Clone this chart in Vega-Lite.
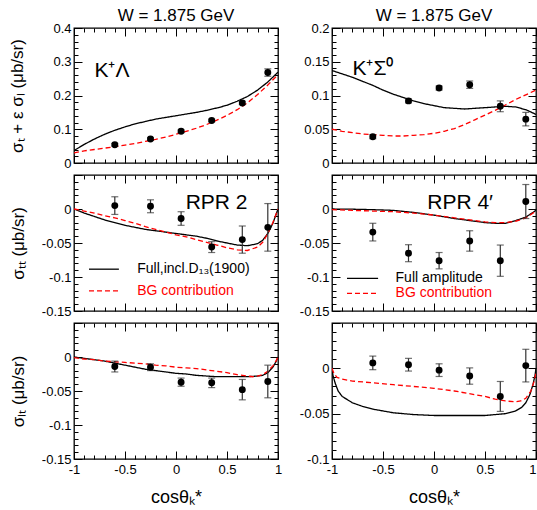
{
"$schema": "https://vega.github.io/schema/vega-lite/v6.json",
"background": "white",
"padding": {"left": 8, "top": 6, "right": 0, "bottom": 0},
"config": {
  "font": "Liberation Sans",
  "view": {"stroke": "black", "strokeWidth": 1.3},
  "axis": {"domain": false, "grid": false, "tickColor": "black", "tickWidth": 1, "labelFont": "Liberation Sans", "labelFontSize": 13, "labelColor": "black", "titleFont": "Liberation Sans", "titleFontSize": 17, "titleFontWeight": "normal", "titleColor": "black"},
  "title": {"font": "Liberation Sans", "fontSize": 17, "fontWeight": "normal", "color": "black", "offset": -3},
  "text": {"font": "Liberation Sans", "color": "black"}
},
"datasets": {
  "curves": [
    {"p":"TL","s":"full","x":-1,"y":0.037},{"p":"TL","s":"full","x":-0.9,"y":0.055},{"p":"TL","s":"full","x":-0.8,"y":0.071},{"p":"TL","s":"full","x":-0.7,"y":0.085},{"p":"TL","s":"full","x":-0.6,"y":0.097},{"p":"TL","s":"full","x":-0.5,"y":0.107},{"p":"TL","s":"full","x":-0.4,"y":0.116},{"p":"TL","s":"full","x":-0.3,"y":0.123},{"p":"TL","s":"full","x":-0.2,"y":0.130},{"p":"TL","s":"full","x":-0.1,"y":0.135},{"p":"TL","s":"full","x":0,"y":0.140},{"p":"TL","s":"full","x":0.1,"y":0.145},{"p":"TL","s":"full","x":0.2,"y":0.150},{"p":"TL","s":"full","x":0.3,"y":0.156},{"p":"TL","s":"full","x":0.4,"y":0.163},{"p":"TL","s":"full","x":0.5,"y":0.171},{"p":"TL","s":"full","x":0.6,"y":0.183},{"p":"TL","s":"full","x":0.7,"y":0.197},{"p":"TL","s":"full","x":0.8,"y":0.216},{"p":"TL","s":"full","x":0.9,"y":0.240},{"p":"TL","s":"full","x":1,"y":0.269},
    {"p":"TL","s":"bg","x":-1,"y":0.030},{"p":"TL","s":"bg","x":-0.9,"y":0.036},{"p":"TL","s":"bg","x":-0.8,"y":0.040},{"p":"TL","s":"bg","x":-0.7,"y":0.044},{"p":"TL","s":"bg","x":-0.6,"y":0.048},{"p":"TL","s":"bg","x":-0.5,"y":0.053},{"p":"TL","s":"bg","x":-0.4,"y":0.058},{"p":"TL","s":"bg","x":-0.3,"y":0.064},{"p":"TL","s":"bg","x":-0.2,"y":0.070},{"p":"TL","s":"bg","x":-0.1,"y":0.077},{"p":"TL","s":"bg","x":0,"y":0.085},{"p":"TL","s":"bg","x":0.1,"y":0.094},{"p":"TL","s":"bg","x":0.2,"y":0.103},{"p":"TL","s":"bg","x":0.3,"y":0.114},{"p":"TL","s":"bg","x":0.4,"y":0.127},{"p":"TL","s":"bg","x":0.5,"y":0.141},{"p":"TL","s":"bg","x":0.6,"y":0.158},{"p":"TL","s":"bg","x":0.7,"y":0.178},{"p":"TL","s":"bg","x":0.8,"y":0.203},{"p":"TL","s":"bg","x":0.9,"y":0.231},{"p":"TL","s":"bg","x":1,"y":0.262},

    {"p":"TR","s":"full","x":-1,"y":0.137},{"p":"TR","s":"full","x":-0.9,"y":0.132},{"p":"TR","s":"full","x":-0.8,"y":0.127},{"p":"TR","s":"full","x":-0.7,"y":0.121},{"p":"TR","s":"full","x":-0.6,"y":0.115},{"p":"TR","s":"full","x":-0.5,"y":0.108},{"p":"TR","s":"full","x":-0.4,"y":0.102},{"p":"TR","s":"full","x":-0.3,"y":0.097},{"p":"TR","s":"full","x":-0.2,"y":0.092},{"p":"TR","s":"full","x":-0.1,"y":0.088},{"p":"TR","s":"full","x":0,"y":0.085},{"p":"TR","s":"full","x":0.1,"y":0.082},{"p":"TR","s":"full","x":0.2,"y":0.081},{"p":"TR","s":"full","x":0.3,"y":0.080},{"p":"TR","s":"full","x":0.4,"y":0.081},{"p":"TR","s":"full","x":0.5,"y":0.082},{"p":"TR","s":"full","x":0.6,"y":0.083},{"p":"TR","s":"full","x":0.7,"y":0.084},{"p":"TR","s":"full","x":0.8,"y":0.083},{"p":"TR","s":"full","x":0.9,"y":0.079},{"p":"TR","s":"full","x":1,"y":0.072},
    {"p":"TR","s":"bg","x":-1,"y":0.050},{"p":"TR","s":"bg","x":-0.9,"y":0.047},{"p":"TR","s":"bg","x":-0.8,"y":0.045},{"p":"TR","s":"bg","x":-0.7,"y":0.043},{"p":"TR","s":"bg","x":-0.6,"y":0.042},{"p":"TR","s":"bg","x":-0.5,"y":0.041},{"p":"TR","s":"bg","x":-0.4,"y":0.040},{"p":"TR","s":"bg","x":-0.3,"y":0.040},{"p":"TR","s":"bg","x":-0.2,"y":0.041},{"p":"TR","s":"bg","x":-0.1,"y":0.042},{"p":"TR","s":"bg","x":0,"y":0.044},{"p":"TR","s":"bg","x":0.1,"y":0.047},{"p":"TR","s":"bg","x":0.2,"y":0.051},{"p":"TR","s":"bg","x":0.3,"y":0.057},{"p":"TR","s":"bg","x":0.4,"y":0.064},{"p":"TR","s":"bg","x":0.5,"y":0.071},{"p":"TR","s":"bg","x":0.6,"y":0.078},{"p":"TR","s":"bg","x":0.7,"y":0.086},{"p":"TR","s":"bg","x":0.8,"y":0.094},{"p":"TR","s":"bg","x":0.9,"y":0.101},{"p":"TR","s":"bg","x":1,"y":0.108},

    {"p":"ML","s":"full","x":-1,"y":0},{"p":"ML","s":"full","x":-0.9,"y":-0.006},{"p":"ML","s":"full","x":-0.8,"y":-0.011},{"p":"ML","s":"full","x":-0.7,"y":-0.016},{"p":"ML","s":"full","x":-0.6,"y":-0.020},{"p":"ML","s":"full","x":-0.5,"y":-0.024},{"p":"ML","s":"full","x":-0.4,"y":-0.027},{"p":"ML","s":"full","x":-0.3,"y":-0.030},{"p":"ML","s":"full","x":-0.2,"y":-0.032},{"p":"ML","s":"full","x":-0.1,"y":-0.034},{"p":"ML","s":"full","x":0,"y":-0.036},{"p":"ML","s":"full","x":0.1,"y":-0.038},{"p":"ML","s":"full","x":0.2,"y":-0.040},{"p":"ML","s":"full","x":0.3,"y":-0.043},{"p":"ML","s":"full","x":0.4,"y":-0.047},{"p":"ML","s":"full","x":0.5,"y":-0.050},{"p":"ML","s":"full","x":0.6,"y":-0.053},{"p":"ML","s":"full","x":0.7,"y":-0.054},{"p":"ML","s":"full","x":0.8,"y":-0.051},{"p":"ML","s":"full","x":0.85,"y":-0.046},{"p":"ML","s":"full","x":0.9,"y":-0.036},{"p":"ML","s":"full","x":0.95,"y":-0.021},{"p":"ML","s":"full","x":1,"y":0},
    {"p":"ML","s":"bg","x":-1,"y":0},{"p":"ML","s":"bg","x":-0.9,"y":-0.003},{"p":"ML","s":"bg","x":-0.8,"y":-0.006},{"p":"ML","s":"bg","x":-0.7,"y":-0.010},{"p":"ML","s":"bg","x":-0.6,"y":-0.013},{"p":"ML","s":"bg","x":-0.5,"y":-0.017},{"p":"ML","s":"bg","x":-0.4,"y":-0.021},{"p":"ML","s":"bg","x":-0.3,"y":-0.026},{"p":"ML","s":"bg","x":-0.2,"y":-0.030},{"p":"ML","s":"bg","x":-0.1,"y":-0.034},{"p":"ML","s":"bg","x":0,"y":-0.038},{"p":"ML","s":"bg","x":0.1,"y":-0.041},{"p":"ML","s":"bg","x":0.2,"y":-0.045},{"p":"ML","s":"bg","x":0.3,"y":-0.049},{"p":"ML","s":"bg","x":0.4,"y":-0.053},{"p":"ML","s":"bg","x":0.5,"y":-0.057},{"p":"ML","s":"bg","x":0.6,"y":-0.060},{"p":"ML","s":"bg","x":0.7,"y":-0.061},{"p":"ML","s":"bg","x":0.8,"y":-0.056},{"p":"ML","s":"bg","x":0.85,"y":-0.049},{"p":"ML","s":"bg","x":0.9,"y":-0.036},{"p":"ML","s":"bg","x":0.95,"y":-0.020},{"p":"ML","s":"bg","x":1,"y":0},

    {"p":"MR","s":"full","x":-1,"y":0},{"p":"MR","s":"full","x":-0.8,"y":-0.0003},{"p":"MR","s":"full","x":-0.6,"y":-0.001},{"p":"MR","s":"full","x":-0.4,"y":-0.002},{"p":"MR","s":"full","x":-0.2,"y":-0.005},{"p":"MR","s":"full","x":0,"y":-0.009},{"p":"MR","s":"full","x":0.2,"y":-0.014},{"p":"MR","s":"full","x":0.4,"y":-0.018},{"p":"MR","s":"full","x":0.5,"y":-0.020},{"p":"MR","s":"full","x":0.6,"y":-0.021},{"p":"MR","s":"full","x":0.7,"y":-0.021},{"p":"MR","s":"full","x":0.8,"y":-0.017},{"p":"MR","s":"full","x":0.9,"y":-0.012},{"p":"MR","s":"full","x":0.95,"y":-0.007},{"p":"MR","s":"full","x":1,"y":-0.002},
    {"p":"MR","s":"bg","x":-1,"y":-0.001},{"p":"MR","s":"bg","x":-0.8,"y":-0.002},{"p":"MR","s":"bg","x":-0.6,"y":-0.003},{"p":"MR","s":"bg","x":-0.4,"y":-0.004},{"p":"MR","s":"bg","x":-0.2,"y":-0.006},{"p":"MR","s":"bg","x":0,"y":-0.009},{"p":"MR","s":"bg","x":0.2,"y":-0.013},{"p":"MR","s":"bg","x":0.4,"y":-0.017},{"p":"MR","s":"bg","x":0.5,"y":-0.019},{"p":"MR","s":"bg","x":0.6,"y":-0.020},{"p":"MR","s":"bg","x":0.7,"y":-0.020},{"p":"MR","s":"bg","x":0.8,"y":-0.018},{"p":"MR","s":"bg","x":0.9,"y":-0.013},{"p":"MR","s":"bg","x":0.95,"y":-0.008},{"p":"MR","s":"bg","x":1,"y":-0.003},

    {"p":"BL","s":"full","x":-1,"y":0},{"p":"BL","s":"full","x":-0.9,"y":-0.002},{"p":"BL","s":"full","x":-0.8,"y":-0.004},{"p":"BL","s":"full","x":-0.7,"y":-0.006},{"p":"BL","s":"full","x":-0.6,"y":-0.009},{"p":"BL","s":"full","x":-0.5,"y":-0.012},{"p":"BL","s":"full","x":-0.4,"y":-0.015},{"p":"BL","s":"full","x":-0.3,"y":-0.018},{"p":"BL","s":"full","x":-0.2,"y":-0.020},{"p":"BL","s":"full","x":-0.1,"y":-0.022},{"p":"BL","s":"full","x":0,"y":-0.024},{"p":"BL","s":"full","x":0.1,"y":-0.025},{"p":"BL","s":"full","x":0.2,"y":-0.027},{"p":"BL","s":"full","x":0.3,"y":-0.028},{"p":"BL","s":"full","x":0.4,"y":-0.029},{"p":"BL","s":"full","x":0.5,"y":-0.029},{"p":"BL","s":"full","x":0.6,"y":-0.029},{"p":"BL","s":"full","x":0.7,"y":-0.029},{"p":"BL","s":"full","x":0.8,"y":-0.028},{"p":"BL","s":"full","x":0.85,"y":-0.027},{"p":"BL","s":"full","x":0.9,"y":-0.023},{"p":"BL","s":"full","x":0.95,"y":-0.015},{"p":"BL","s":"full","x":0.98,"y":-0.007},{"p":"BL","s":"full","x":1,"y":0},
    {"p":"BL","s":"bg","x":-1,"y":-0.001},{"p":"BL","s":"bg","x":-0.9,"y":-0.003},{"p":"BL","s":"bg","x":-0.8,"y":-0.004},{"p":"BL","s":"bg","x":-0.7,"y":-0.006},{"p":"BL","s":"bg","x":-0.6,"y":-0.007},{"p":"BL","s":"bg","x":-0.5,"y":-0.008},{"p":"BL","s":"bg","x":-0.4,"y":-0.009},{"p":"BL","s":"bg","x":-0.3,"y":-0.010},{"p":"BL","s":"bg","x":-0.2,"y":-0.012},{"p":"BL","s":"bg","x":-0.1,"y":-0.013},{"p":"BL","s":"bg","x":0,"y":-0.015},{"p":"BL","s":"bg","x":0.1,"y":-0.016},{"p":"BL","s":"bg","x":0.2,"y":-0.017},{"p":"BL","s":"bg","x":0.3,"y":-0.019},{"p":"BL","s":"bg","x":0.4,"y":-0.021},{"p":"BL","s":"bg","x":0.5,"y":-0.023},{"p":"BL","s":"bg","x":0.6,"y":-0.026},{"p":"BL","s":"bg","x":0.7,"y":-0.028},{"p":"BL","s":"bg","x":0.75,"y":-0.029},{"p":"BL","s":"bg","x":0.8,"y":-0.028},{"p":"BL","s":"bg","x":0.85,"y":-0.026},{"p":"BL","s":"bg","x":0.9,"y":-0.021},{"p":"BL","s":"bg","x":0.95,"y":-0.013},{"p":"BL","s":"bg","x":0.98,"y":-0.006},{"p":"BL","s":"bg","x":1,"y":0},

    {"p":"BR","s":"full","x":-1,"y":0},{"p":"BR","s":"full","x":-0.99,"y":-0.008},{"p":"BR","s":"full","x":-0.97,"y":-0.016},{"p":"BR","s":"full","x":-0.94,"y":-0.025},{"p":"BR","s":"full","x":-0.9,"y":-0.031},{"p":"BR","s":"full","x":-0.8,"y":-0.038},{"p":"BR","s":"full","x":-0.7,"y":-0.042},{"p":"BR","s":"full","x":-0.6,"y":-0.045},{"p":"BR","s":"full","x":-0.5,"y":-0.047},{"p":"BR","s":"full","x":-0.4,"y":-0.049},{"p":"BR","s":"full","x":-0.3,"y":-0.050},{"p":"BR","s":"full","x":-0.2,"y":-0.051},{"p":"BR","s":"full","x":-0.1,"y":-0.0515},{"p":"BR","s":"full","x":0,"y":-0.052},{"p":"BR","s":"full","x":0.1,"y":-0.052},{"p":"BR","s":"full","x":0.2,"y":-0.052},{"p":"BR","s":"full","x":0.3,"y":-0.052},{"p":"BR","s":"full","x":0.4,"y":-0.052},{"p":"BR","s":"full","x":0.5,"y":-0.052},{"p":"BR","s":"full","x":0.6,"y":-0.051},{"p":"BR","s":"full","x":0.7,"y":-0.050},{"p":"BR","s":"full","x":0.8,"y":-0.047},{"p":"BR","s":"full","x":0.86,"y":-0.043},{"p":"BR","s":"full","x":0.9,"y":-0.038},{"p":"BR","s":"full","x":0.94,"y":-0.029},{"p":"BR","s":"full","x":0.97,"y":-0.018},{"p":"BR","s":"full","x":0.99,"y":-0.008},{"p":"BR","s":"full","x":1,"y":0},
    {"p":"BR","s":"bg","x":-1,"y":0},{"p":"BR","s":"bg","x":-0.98,"y":-0.006},{"p":"BR","s":"bg","x":-0.95,"y":-0.010},{"p":"BR","s":"bg","x":-0.9,"y":-0.012},{"p":"BR","s":"bg","x":-0.8,"y":-0.014},{"p":"BR","s":"bg","x":-0.6,"y":-0.016},{"p":"BR","s":"bg","x":-0.4,"y":-0.018},{"p":"BR","s":"bg","x":-0.2,"y":-0.020},{"p":"BR","s":"bg","x":0,"y":-0.022},{"p":"BR","s":"bg","x":0.2,"y":-0.025},{"p":"BR","s":"bg","x":0.4,"y":-0.029},{"p":"BR","s":"bg","x":0.5,"y":-0.031},{"p":"BR","s":"bg","x":0.6,"y":-0.034},{"p":"BR","s":"bg","x":0.7,"y":-0.036},{"p":"BR","s":"bg","x":0.8,"y":-0.037},{"p":"BR","s":"bg","x":0.85,"y":-0.036},{"p":"BR","s":"bg","x":0.9,"y":-0.033},{"p":"BR","s":"bg","x":0.95,"y":-0.025},{"p":"BR","s":"bg","x":0.98,"y":-0.015},{"p":"BR","s":"bg","x":1,"y":-0.005}
  ],
  "points": [
    {"p":"TL","x":-0.6,"y":0.054,"lo":0.050,"hi":0.058},{"p":"TL","x":-0.25,"y":0.071,"lo":0.067,"hi":0.075},{"p":"TL","x":0.05,"y":0.094,"lo":0.090,"hi":0.098},{"p":"TL","x":0.35,"y":0.126,"lo":0.122,"hi":0.130},{"p":"TL","x":0.65,"y":0.178,"lo":0.173,"hi":0.183},{"p":"TL","x":0.9,"y":0.268,"lo":0.257,"hi":0.279},
    {"p":"TR","x":-0.6,"y":0.039,"lo":0.036,"hi":0.042},{"p":"TR","x":-0.25,"y":0.092,"lo":0.089,"hi":0.095},{"p":"TR","x":0.05,"y":0.111,"lo":0.108,"hi":0.114},{"p":"TR","x":0.35,"y":0.116,"lo":0.1105,"hi":0.1215},{"p":"TR","x":0.65,"y":0.084,"lo":0.076,"hi":0.092},{"p":"TR","x":0.9,"y":0.065,"lo":0.055,"hi":0.075},
    {"p":"ML","x":-0.6,"y":0.005,"lo":-0.008,"hi":0.018},{"p":"ML","x":-0.25,"y":0.004,"lo":-0.0055,"hi":0.0135},{"p":"ML","x":0.05,"y":-0.014,"lo":-0.024,"hi":-0.004},{"p":"ML","x":0.35,"y":-0.056,"lo":-0.064,"hi":-0.048},{"p":"ML","x":0.65,"y":-0.045,"lo":-0.065,"hi":-0.025},{"p":"ML","x":0.9,"y":-0.027,"lo":-0.062,"hi":0.008},
    {"p":"MR","x":-0.6,"y":-0.034,"lo":-0.047,"hi":-0.021},{"p":"MR","x":-0.25,"y":-0.065,"lo":-0.0775,"hi":-0.0525},{"p":"MR","x":0.05,"y":-0.076,"lo":-0.088,"hi":-0.064},{"p":"MR","x":0.35,"y":-0.047,"lo":-0.062,"hi":-0.032},{"p":"MR","x":0.65,"y":-0.076,"lo":-0.099,"hi":-0.053},{"p":"MR","x":0.9,"y":0.011,"lo":-0.014,"hi":0.036},
    {"p":"BL","x":-0.6,"y":-0.014,"lo":-0.022,"hi":-0.006},{"p":"BL","x":-0.25,"y":-0.015,"lo":-0.020,"hi":-0.010},{"p":"BL","x":0.05,"y":-0.037,"lo":-0.043,"hi":-0.031},{"p":"BL","x":0.35,"y":-0.038,"lo":-0.045,"hi":-0.031},{"p":"BL","x":0.65,"y":-0.048,"lo":-0.063,"hi":-0.033},{"p":"BL","x":0.9,"y":-0.036,"lo":-0.060,"hi":-0.012},
    {"p":"BR","x":-0.6,"y":0.006,"lo":-0.0015,"hi":0.0135},{"p":"BR","x":-0.25,"y":0.004,"lo":-0.003,"hi":0.011},{"p":"BR","x":0.05,"y":-0.002,"lo":-0.009,"hi":0.005},{"p":"BR","x":0.35,"y":-0.0085,"lo":-0.0175,"hi":0.0005},{"p":"BR","x":0.65,"y":-0.031,"lo":-0.0475,"hi":-0.0145},{"p":"BR","x":0.9,"y":0.003,"lo":-0.015,"hi":0.021}
  ]
},
"columns": 2,
"spacing": {"row": 12, "column": 54},
"bounds": "flush",
"concat": [
  {
    "width": 204, "height": 135,
    "title": {"text": "W = 1.875 GeV"},
    "layer": [
      {"data": {"name": "curves"}, "transform": [{"filter": "datum.p === 'TL'"}],
       "mark": {"type": "line", "strokeWidth": 1.3, "clip": true},
       "encoding": {
         "x": {"field": "x", "type": "quantitative", "scale": {"domain": [-1, 1], "nice": false, "zero": false},
               "axis": {"orient": "bottom", "values": [-1,-0.9,-0.8,-0.7,-0.6,-0.5,-0.4,-0.3,-0.2,-0.1,0,0.1,0.2,0.3,0.4,0.5,0.6,0.7,0.8,0.9,1], "tickSize": {"condition": {"test": "abs(datum.value*2-round(datum.value*2))<1e-6", "value": -8}, "value": -4}, "labels": false, "title": null}},
         "y": {"field": "y", "type": "quantitative", "scale": {"domain": [0, 0.4], "nice": false, "zero": false},
               "axis": {"orient": "left", "values": [0,0.02,0.04,0.06,0.08,0.1,0.12,0.14,0.16,0.18,0.2,0.22,0.24,0.26,0.28,0.3,0.32,0.34,0.36,0.38,0.4], "tickSize": {"condition": {"test": "abs(datum.value*10-round(datum.value*10))<1e-6", "value": -8}, "value": -4}, "labelExpr": "abs(datum.value*10-round(datum.value*10))<1e-6 ? replace(format(datum.value,'~g'),'\u2212','-') : ''", "labelPadding": 11, "labelOverlap": false, "title": "σₜ + ε σₗ (μb/sr)", "titlePadding": 26}},
         "color": {"field": "s", "type": "nominal", "scale": {"domain": ["full", "bg"], "range": ["black", "#ff0000"]}, "legend": null},
         "strokeDash": {"field": "s", "type": "nominal", "scale": {"domain": ["full", "bg"], "range": [[1, 0], [5, 3]]}, "legend": null}
       }},
      {"data": {"name": "points"}, "transform": [{"filter": "datum.p === 'TL'"}],
       "mark": {"type": "rule", "color": "#333", "strokeWidth": 1.2},
       "encoding": {"x": {"field": "x", "type": "quantitative", "axis": null}, "y": {"field": "lo", "type": "quantitative", "axis": null}, "y2": {"field": "hi"}}},
      {"data": {"name": "points"}, "transform": [{"filter": "datum.p === 'TL'"}],
       "mark": {"type": "tick", "orient": "horizontal", "size": 7, "thickness": 1.2, "color": "#333"},
       "encoding": {"x": {"field": "x", "type": "quantitative", "axis": null}, "y": {"field": "lo", "type": "quantitative", "axis": null}}},
      {"data": {"name": "points"}, "transform": [{"filter": "datum.p === 'TL'"}],
       "mark": {"type": "tick", "orient": "horizontal", "size": 7, "thickness": 1.2, "color": "#333"},
       "encoding": {"x": {"field": "x", "type": "quantitative", "axis": null}, "y": {"field": "hi", "type": "quantitative", "axis": null}}},
      {"data": {"name": "points"}, "transform": [{"filter": "datum.p === 'TL'"}],
       "mark": {"type": "circle", "size": 48, "color": "black", "opacity": 1},
       "encoding": {
         "x": {"field": "x", "type": "quantitative", "axis": {"orient": "top", "values": [-1,-0.9,-0.8,-0.7,-0.6,-0.5,-0.4,-0.3,-0.2,-0.1,0,0.1,0.2,0.3,0.4,0.5,0.6,0.7,0.8,0.9,1], "tickSize": {"condition": {"test": "abs(datum.value*2-round(datum.value*2))<1e-6", "value": -8}, "value": -4}, "labels": false, "title": null}},
         "y": {"field": "y", "type": "quantitative", "axis": {"orient": "right", "values": [0,0.02,0.04,0.06,0.08,0.1,0.12,0.14,0.16,0.18,0.2,0.22,0.24,0.26,0.28,0.3,0.32,0.34,0.36,0.38,0.4], "tickSize": {"condition": {"test": "abs(datum.value*10-round(datum.value*10))<1e-6", "value": -8}, "value": -4}, "labels": false, "title": null}}
       }},
      {"data": {"values": [{}]},
       "mark": {"type": "text", "text": "K⁺Λ", "fontSize": 21, "align": "left", "baseline": "alphabetic"},
       "encoding": {"x": {"datum": -0.8, "type": "quantitative", "axis": null}, "y": {"datum": 0.256, "type": "quantitative", "axis": null}}}
    ],
    "resolve": {"axis": {"x": "independent", "y": "independent"}}
  },
  {
    "width": 204, "height": 135,
    "title": {"text": "W = 1.875 GeV"},
    "layer": [
      {"data": {"name": "curves"}, "transform": [{"filter": "datum.p === 'TR'"}],
       "mark": {"type": "line", "strokeWidth": 1.3, "clip": true},
       "encoding": {
         "x": {"field": "x", "type": "quantitative", "scale": {"domain": [-1, 1], "nice": false, "zero": false},
               "axis": {"orient": "bottom", "values": [-1,-0.9,-0.8,-0.7,-0.6,-0.5,-0.4,-0.3,-0.2,-0.1,0,0.1,0.2,0.3,0.4,0.5,0.6,0.7,0.8,0.9,1], "tickSize": {"condition": {"test": "abs(datum.value*2-round(datum.value*2))<1e-6", "value": -8}, "value": -4}, "labels": false, "title": null}},
         "y": {"field": "y", "type": "quantitative", "scale": {"domain": [0, 0.2], "nice": false, "zero": false},
               "axis": {"orient": "left", "values": [0,0.01,0.02,0.03,0.04,0.05,0.06,0.07,0.08,0.09,0.1,0.11,0.12,0.13,0.14,0.15,0.16,0.17,0.18,0.19,0.2], "tickSize": {"condition": {"test": "abs(datum.value*20-round(datum.value*20))<1e-6", "value": -8}, "value": -4}, "labelExpr": "abs(datum.value*20-round(datum.value*20))<1e-6 ? replace(format(datum.value,'~g'),'\u2212','-') : ''", "labelPadding": 11, "labelOverlap": false, "title": null}},
         "color": {"field": "s", "type": "nominal", "scale": {"domain": ["full", "bg"], "range": ["black", "#ff0000"]}, "legend": null},
         "strokeDash": {"field": "s", "type": "nominal", "scale": {"domain": ["full", "bg"], "range": [[1, 0], [5, 3]]}, "legend": null}
       }},
      {"data": {"name": "points"}, "transform": [{"filter": "datum.p === 'TR'"}],
       "mark": {"type": "rule", "color": "#333", "strokeWidth": 1.2},
       "encoding": {"x": {"field": "x", "type": "quantitative", "axis": null}, "y": {"field": "lo", "type": "quantitative", "axis": null}, "y2": {"field": "hi"}}},
      {"data": {"name": "points"}, "transform": [{"filter": "datum.p === 'TR'"}],
       "mark": {"type": "tick", "orient": "horizontal", "size": 7, "thickness": 1.2, "color": "#333"},
       "encoding": {"x": {"field": "x", "type": "quantitative", "axis": null}, "y": {"field": "lo", "type": "quantitative", "axis": null}}},
      {"data": {"name": "points"}, "transform": [{"filter": "datum.p === 'TR'"}],
       "mark": {"type": "tick", "orient": "horizontal", "size": 7, "thickness": 1.2, "color": "#333"},
       "encoding": {"x": {"field": "x", "type": "quantitative", "axis": null}, "y": {"field": "hi", "type": "quantitative", "axis": null}}},
      {"data": {"name": "points"}, "transform": [{"filter": "datum.p === 'TR'"}],
       "mark": {"type": "circle", "size": 48, "color": "black", "opacity": 1},
       "encoding": {
         "x": {"field": "x", "type": "quantitative", "axis": {"orient": "top", "values": [-1,-0.9,-0.8,-0.7,-0.6,-0.5,-0.4,-0.3,-0.2,-0.1,0,0.1,0.2,0.3,0.4,0.5,0.6,0.7,0.8,0.9,1], "tickSize": {"condition": {"test": "abs(datum.value*2-round(datum.value*2))<1e-6", "value": -8}, "value": -4}, "labels": false, "title": null}},
         "y": {"field": "y", "type": "quantitative", "axis": {"orient": "right", "values": [0,0.01,0.02,0.03,0.04,0.05,0.06,0.07,0.08,0.09,0.1,0.11,0.12,0.13,0.14,0.15,0.16,0.17,0.18,0.19,0.2], "tickSize": {"condition": {"test": "abs(datum.value*20-round(datum.value*20))<1e-6", "value": -8}, "value": -4}, "labels": false, "title": null}}
       }},
      {"data": {"values": [{}]},
       "mark": {"type": "text", "text": "K⁺Σ⁰", "fontSize": 21, "align": "left", "baseline": "alphabetic"},
       "encoding": {"x": {"datum": -0.8, "type": "quantitative", "axis": null}, "y": {"datum": 0.13, "type": "quantitative", "axis": null}}}
    ],
    "resolve": {"axis": {"x": "independent", "y": "independent"}}
  },
  {
    "width": 204, "height": 136,
    "layer": [
      {"data": {"name": "curves"}, "transform": [{"filter": "datum.p === 'ML'"}],
       "mark": {"type": "line", "strokeWidth": 1.3, "clip": true},
       "encoding": {
         "x": {"field": "x", "type": "quantitative", "scale": {"domain": [-1, 1], "nice": false, "zero": false},
               "axis": {"orient": "bottom", "values": [-1,-0.9,-0.8,-0.7,-0.6,-0.5,-0.4,-0.3,-0.2,-0.1,0,0.1,0.2,0.3,0.4,0.5,0.6,0.7,0.8,0.9,1], "tickSize": {"condition": {"test": "abs(datum.value*2-round(datum.value*2))<1e-6", "value": -8}, "value": -4}, "labels": false, "title": null}},
         "y": {"field": "y", "type": "quantitative", "scale": {"domain": [-0.15, 0.05], "nice": false, "zero": false},
               "axis": {"orient": "left", "values": [-0.15,-0.14,-0.13,-0.12,-0.11,-0.1,-0.09,-0.08,-0.07,-0.06,-0.05,-0.04,-0.03,-0.02,-0.01,0,0.01,0.02,0.03,0.04,0.05], "tickSize": {"condition": {"test": "abs(datum.value*20-round(datum.value*20))<1e-6", "value": -8}, "value": -4}, "labelExpr": "abs(datum.value*20-round(datum.value*20))<1e-6 && datum.value<0.04 ? replace(format(datum.value,'~g'),'\u2212','-') : ''", "labelPadding": 11, "labelOverlap": false, "title": "σₜₜ (μb/sr)", "titlePadding": 14}},
         "color": {"field": "s", "type": "nominal", "scale": {"domain": ["full", "bg"], "range": ["black", "#ff0000"]}, "legend": null},
         "strokeDash": {"field": "s", "type": "nominal", "scale": {"domain": ["full", "bg"], "range": [[1, 0], [5, 3]]}, "legend": null}
       }},
      {"data": {"name": "points"}, "transform": [{"filter": "datum.p === 'ML'"}],
       "mark": {"type": "rule", "color": "#333", "strokeWidth": 1.2},
       "encoding": {"x": {"field": "x", "type": "quantitative", "axis": null}, "y": {"field": "lo", "type": "quantitative", "axis": null}, "y2": {"field": "hi"}}},
      {"data": {"name": "points"}, "transform": [{"filter": "datum.p === 'ML'"}],
       "mark": {"type": "tick", "orient": "horizontal", "size": 7, "thickness": 1.2, "color": "#333"},
       "encoding": {"x": {"field": "x", "type": "quantitative", "axis": null}, "y": {"field": "lo", "type": "quantitative", "axis": null}}},
      {"data": {"name": "points"}, "transform": [{"filter": "datum.p === 'ML'"}],
       "mark": {"type": "tick", "orient": "horizontal", "size": 7, "thickness": 1.2, "color": "#333"},
       "encoding": {"x": {"field": "x", "type": "quantitative", "axis": null}, "y": {"field": "hi", "type": "quantitative", "axis": null}}},
      {"data": {"name": "points"}, "transform": [{"filter": "datum.p === 'ML'"}],
       "mark": {"type": "circle", "size": 48, "color": "black", "opacity": 1},
       "encoding": {
         "x": {"field": "x", "type": "quantitative", "axis": {"orient": "top", "values": [-1,-0.9,-0.8,-0.7,-0.6,-0.5,-0.4,-0.3,-0.2,-0.1,0,0.1,0.2,0.3,0.4,0.5,0.6,0.7,0.8,0.9,1], "tickSize": {"condition": {"test": "abs(datum.value*2-round(datum.value*2))<1e-6", "value": -8}, "value": -4}, "labels": false, "title": null}},
         "y": {"field": "y", "type": "quantitative", "axis": {"orient": "right", "values": [-0.15,-0.14,-0.13,-0.12,-0.11,-0.1,-0.09,-0.08,-0.07,-0.06,-0.05,-0.04,-0.03,-0.02,-0.01,0,0.01,0.02,0.03,0.04,0.05], "tickSize": {"condition": {"test": "abs(datum.value*20-round(datum.value*20))<1e-6", "value": -8}, "value": -4}, "labels": false, "title": null}}
       }},
      {"data": {"values": [{}]},
       "mark": {"type": "text", "text": "RPR 2", "fontSize": 21, "align": "left", "baseline": "alphabetic"},
       "encoding": {"x": {"datum": 0.095, "type": "quantitative", "axis": null}, "y": {"datum": 0, "type": "quantitative", "axis": null}}},
      {"data": {"values": [{}]},
       "mark": {"type": "rule", "color": "black", "strokeWidth": 1.3},
       "encoding": {"x": {"datum": -0.853, "type": "quantitative", "axis": null}, "x2": {"datum": -0.56}, "y": {"datum": -0.0885, "type": "quantitative", "axis": null}}},
      {"data": {"values": [{}]},
       "mark": {"type": "rule", "color": "#ff0000", "strokeWidth": 1.3, "strokeDash": [5, 3]},
       "encoding": {"x": {"datum": -0.853, "type": "quantitative", "axis": null}, "x2": {"datum": -0.56}, "y": {"datum": -0.1205, "type": "quantitative", "axis": null}}},
      {"data": {"values": [{}]},
       "mark": {"type": "text", "text": "Full,incl.D₁₃(1900)", "fontSize": 14, "align": "left", "baseline": "middle"},
       "encoding": {"x": {"datum": -0.38, "type": "quantitative", "axis": null}, "y": {"datum": -0.0885, "type": "quantitative", "axis": null}}},
      {"data": {"values": [{}]},
       "mark": {"type": "text", "text": "BG contribution", "fontSize": 14, "align": "left", "baseline": "middle", "color": "#ff0000"},
       "encoding": {"x": {"datum": -0.38, "type": "quantitative", "axis": null}, "y": {"datum": -0.1205, "type": "quantitative", "axis": null}}}
    ],
    "resolve": {"axis": {"x": "independent", "y": "independent"}}
  },
  {
    "width": 204, "height": 136,
    "layer": [
      {"data": {"name": "curves"}, "transform": [{"filter": "datum.p === 'MR'"}],
       "mark": {"type": "line", "strokeWidth": 1.3, "clip": true},
       "encoding": {
         "x": {"field": "x", "type": "quantitative", "scale": {"domain": [-1, 1], "nice": false, "zero": false},
               "axis": {"orient": "bottom", "values": [-1,-0.9,-0.8,-0.7,-0.6,-0.5,-0.4,-0.3,-0.2,-0.1,0,0.1,0.2,0.3,0.4,0.5,0.6,0.7,0.8,0.9,1], "tickSize": {"condition": {"test": "abs(datum.value*2-round(datum.value*2))<1e-6", "value": -8}, "value": -4}, "labels": false, "title": null}},
         "y": {"field": "y", "type": "quantitative", "scale": {"domain": [-0.15, 0.05], "nice": false, "zero": false},
               "axis": {"orient": "left", "values": [-0.15,-0.14,-0.13,-0.12,-0.11,-0.1,-0.09,-0.08,-0.07,-0.06,-0.05,-0.04,-0.03,-0.02,-0.01,0,0.01,0.02,0.03,0.04,0.05], "tickSize": {"condition": {"test": "abs(datum.value*20-round(datum.value*20))<1e-6", "value": -8}, "value": -4}, "labelExpr": "abs(datum.value*20-round(datum.value*20))<1e-6 && datum.value<0.04 ? replace(format(datum.value,'~g'),'\u2212','-') : ''", "labelPadding": 11, "labelOverlap": false, "title": null}},
         "color": {"field": "s", "type": "nominal", "scale": {"domain": ["full", "bg"], "range": ["black", "#ff0000"]}, "legend": null},
         "strokeDash": {"field": "s", "type": "nominal", "scale": {"domain": ["full", "bg"], "range": [[1, 0], [5, 3]]}, "legend": null}
       }},
      {"data": {"name": "points"}, "transform": [{"filter": "datum.p === 'MR'"}],
       "mark": {"type": "rule", "color": "#333", "strokeWidth": 1.2},
       "encoding": {"x": {"field": "x", "type": "quantitative", "axis": null}, "y": {"field": "lo", "type": "quantitative", "axis": null}, "y2": {"field": "hi"}}},
      {"data": {"name": "points"}, "transform": [{"filter": "datum.p === 'MR'"}],
       "mark": {"type": "tick", "orient": "horizontal", "size": 7, "thickness": 1.2, "color": "#333"},
       "encoding": {"x": {"field": "x", "type": "quantitative", "axis": null}, "y": {"field": "lo", "type": "quantitative", "axis": null}}},
      {"data": {"name": "points"}, "transform": [{"filter": "datum.p === 'MR'"}],
       "mark": {"type": "tick", "orient": "horizontal", "size": 7, "thickness": 1.2, "color": "#333"},
       "encoding": {"x": {"field": "x", "type": "quantitative", "axis": null}, "y": {"field": "hi", "type": "quantitative", "axis": null}}},
      {"data": {"name": "points"}, "transform": [{"filter": "datum.p === 'MR'"}],
       "mark": {"type": "circle", "size": 48, "color": "black", "opacity": 1},
       "encoding": {
         "x": {"field": "x", "type": "quantitative", "axis": {"orient": "top", "values": [-1,-0.9,-0.8,-0.7,-0.6,-0.5,-0.4,-0.3,-0.2,-0.1,0,0.1,0.2,0.3,0.4,0.5,0.6,0.7,0.8,0.9,1], "tickSize": {"condition": {"test": "abs(datum.value*2-round(datum.value*2))<1e-6", "value": -8}, "value": -4}, "labels": false, "title": null}},
         "y": {"field": "y", "type": "quantitative", "axis": {"orient": "right", "values": [-0.15,-0.14,-0.13,-0.12,-0.11,-0.1,-0.09,-0.08,-0.07,-0.06,-0.05,-0.04,-0.03,-0.02,-0.01,0,0.01,0.02,0.03,0.04,0.05], "tickSize": {"condition": {"test": "abs(datum.value*20-round(datum.value*20))<1e-6", "value": -8}, "value": -4}, "labels": false, "title": null}}
       }},
      {"data": {"values": [{}]},
       "mark": {"type": "text", "text": "RPR 4′", "fontSize": 21, "align": "left", "baseline": "alphabetic"},
       "encoding": {"x": {"datum": -0.066, "type": "quantitative", "axis": null}, "y": {"datum": 0, "type": "quantitative", "axis": null}}},
      {"data": {"values": [{}]},
       "mark": {"type": "rule", "color": "black", "strokeWidth": 1.3},
       "encoding": {"x": {"datum": -0.853, "type": "quantitative", "axis": null}, "x2": {"datum": -0.548}, "y": {"datum": -0.102, "type": "quantitative", "axis": null}}},
      {"data": {"values": [{}]},
       "mark": {"type": "rule", "color": "#ff0000", "strokeWidth": 1.3, "strokeDash": [5, 3]},
       "encoding": {"x": {"datum": -0.853, "type": "quantitative", "axis": null}, "x2": {"datum": -0.548}, "y": {"datum": -0.124, "type": "quantitative", "axis": null}}},
      {"data": {"values": [{}]},
       "mark": {"type": "text", "text": "Full amplitude", "fontSize": 14, "align": "left", "baseline": "middle"},
       "encoding": {"x": {"datum": -0.377, "type": "quantitative", "axis": null}, "y": {"datum": -0.102, "type": "quantitative", "axis": null}}},
      {"data": {"values": [{}]},
       "mark": {"type": "text", "text": "BG contribution", "fontSize": 14, "align": "left", "baseline": "middle", "color": "#ff0000"},
       "encoding": {"x": {"datum": -0.377, "type": "quantitative", "axis": null}, "y": {"datum": -0.124, "type": "quantitative", "axis": null}}}
    ],
    "resolve": {"axis": {"x": "independent", "y": "independent"}}
  },
  {
    "width": 204, "height": 136,
    "layer": [
      {"data": {"name": "curves"}, "transform": [{"filter": "datum.p === 'BL'"}],
       "mark": {"type": "line", "strokeWidth": 1.3, "clip": true},
       "encoding": {
         "x": {"field": "x", "type": "quantitative", "scale": {"domain": [-1, 1], "nice": false, "zero": false},
               "axis": {"orient": "bottom", "values": [-1,-0.9,-0.8,-0.7,-0.6,-0.5,-0.4,-0.3,-0.2,-0.1,0,0.1,0.2,0.3,0.4,0.5,0.6,0.7,0.8,0.9,1], "tickSize": {"condition": {"test": "abs(datum.value*2-round(datum.value*2))<1e-6", "value": -8}, "value": -4}, "labelExpr": "abs(datum.value*2-round(datum.value*2))<1e-6 ? replace(format(datum.value,'~g'),'\u2212','-') : ''", "labelPadding": 12, "labelFlush": false, "labelOverlap": false, "title": "cosθₖ*", "titleFontSize": 18, "titlePadding": 8}},
         "y": {"field": "y", "type": "quantitative", "scale": {"domain": [-0.15, 0.05], "nice": false, "zero": false},
               "axis": {"orient": "left", "values": [-0.15,-0.14,-0.13,-0.12,-0.11,-0.1,-0.09,-0.08,-0.07,-0.06,-0.05,-0.04,-0.03,-0.02,-0.01,0,0.01,0.02,0.03,0.04,0.05], "tickSize": {"condition": {"test": "abs(datum.value*20-round(datum.value*20))<1e-6", "value": -8}, "value": -4}, "labelExpr": "abs(datum.value*20-round(datum.value*20))<1e-6 && datum.value<0.04 ? replace(format(datum.value,'~g'),'\u2212','-') : ''", "labelPadding": 11, "labelOverlap": false, "title": "σₗₜ (μb/sr)", "titlePadding": 14}},
         "color": {"field": "s", "type": "nominal", "scale": {"domain": ["full", "bg"], "range": ["black", "#ff0000"]}, "legend": null},
         "strokeDash": {"field": "s", "type": "nominal", "scale": {"domain": ["full", "bg"], "range": [[1, 0], [5, 3]]}, "legend": null}
       }},
      {"data": {"name": "points"}, "transform": [{"filter": "datum.p === 'BL'"}],
       "mark": {"type": "rule", "color": "#333", "strokeWidth": 1.2},
       "encoding": {"x": {"field": "x", "type": "quantitative", "axis": null}, "y": {"field": "lo", "type": "quantitative", "axis": null}, "y2": {"field": "hi"}}},
      {"data": {"name": "points"}, "transform": [{"filter": "datum.p === 'BL'"}],
       "mark": {"type": "tick", "orient": "horizontal", "size": 7, "thickness": 1.2, "color": "#333"},
       "encoding": {"x": {"field": "x", "type": "quantitative", "axis": null}, "y": {"field": "lo", "type": "quantitative", "axis": null}}},
      {"data": {"name": "points"}, "transform": [{"filter": "datum.p === 'BL'"}],
       "mark": {"type": "tick", "orient": "horizontal", "size": 7, "thickness": 1.2, "color": "#333"},
       "encoding": {"x": {"field": "x", "type": "quantitative", "axis": null}, "y": {"field": "hi", "type": "quantitative", "axis": null}}},
      {"data": {"name": "points"}, "transform": [{"filter": "datum.p === 'BL'"}],
       "mark": {"type": "circle", "size": 48, "color": "black", "opacity": 1},
       "encoding": {
         "x": {"field": "x", "type": "quantitative", "axis": {"orient": "top", "values": [-1,-0.9,-0.8,-0.7,-0.6,-0.5,-0.4,-0.3,-0.2,-0.1,0,0.1,0.2,0.3,0.4,0.5,0.6,0.7,0.8,0.9,1], "tickSize": {"condition": {"test": "abs(datum.value*2-round(datum.value*2))<1e-6", "value": -8}, "value": -4}, "labels": false, "title": null}},
         "y": {"field": "y", "type": "quantitative", "axis": {"orient": "right", "values": [-0.15,-0.14,-0.13,-0.12,-0.11,-0.1,-0.09,-0.08,-0.07,-0.06,-0.05,-0.04,-0.03,-0.02,-0.01,0,0.01,0.02,0.03,0.04,0.05], "tickSize": {"condition": {"test": "abs(datum.value*20-round(datum.value*20))<1e-6", "value": -8}, "value": -4}, "labels": false, "title": null}}
       }}
    ],
    "resolve": {"axis": {"x": "independent", "y": "independent"}}
  },
  {
    "width": 204, "height": 136,
    "layer": [
      {"data": {"name": "curves"}, "transform": [{"filter": "datum.p === 'BR'"}],
       "mark": {"type": "line", "strokeWidth": 1.3, "clip": true},
       "encoding": {
         "x": {"field": "x", "type": "quantitative", "scale": {"domain": [-1, 1], "nice": false, "zero": false},
               "axis": {"orient": "bottom", "values": [-1,-0.9,-0.8,-0.7,-0.6,-0.5,-0.4,-0.3,-0.2,-0.1,0,0.1,0.2,0.3,0.4,0.5,0.6,0.7,0.8,0.9,1], "tickSize": {"condition": {"test": "abs(datum.value*2-round(datum.value*2))<1e-6", "value": -8}, "value": -4}, "labelExpr": "abs(datum.value*2-round(datum.value*2))<1e-6 ? replace(format(datum.value,'~g'),'\u2212','-') : ''", "labelAlign": {"condition": {"test": "datum.value > 0.99", "value": "right"}, "value": "center"}, "labelPadding": 12, "labelFlush": false, "labelOverlap": false, "title": "cosθₖ*", "titleFontSize": 18, "titlePadding": 8}},
         "y": {"field": "y", "type": "quantitative", "scale": {"domain": [-0.1, 0.05], "nice": false, "zero": false},
               "axis": {"orient": "left", "values": [-0.1,-0.09,-0.08,-0.07,-0.06,-0.05,-0.04,-0.03,-0.02,-0.01,0,0.01,0.02,0.03,0.04,0.05], "tickSize": {"condition": {"test": "abs(datum.value*20-round(datum.value*20))<1e-6", "value": -8}, "value": -4}, "labelExpr": "abs(datum.value*20-round(datum.value*20))<1e-6 && datum.value<0.04 ? replace(format(datum.value,'~g'),'\u2212','-') : ''", "labelPadding": 11, "labelOverlap": false, "title": null}},
         "color": {"field": "s", "type": "nominal", "scale": {"domain": ["full", "bg"], "range": ["black", "#ff0000"]}, "legend": null},
         "strokeDash": {"field": "s", "type": "nominal", "scale": {"domain": ["full", "bg"], "range": [[1, 0], [5, 3]]}, "legend": null}
       }},
      {"data": {"name": "points"}, "transform": [{"filter": "datum.p === 'BR'"}],
       "mark": {"type": "rule", "color": "#333", "strokeWidth": 1.2},
       "encoding": {"x": {"field": "x", "type": "quantitative", "axis": null}, "y": {"field": "lo", "type": "quantitative", "axis": null}, "y2": {"field": "hi"}}},
      {"data": {"name": "points"}, "transform": [{"filter": "datum.p === 'BR'"}],
       "mark": {"type": "tick", "orient": "horizontal", "size": 7, "thickness": 1.2, "color": "#333"},
       "encoding": {"x": {"field": "x", "type": "quantitative", "axis": null}, "y": {"field": "lo", "type": "quantitative", "axis": null}}},
      {"data": {"name": "points"}, "transform": [{"filter": "datum.p === 'BR'"}],
       "mark": {"type": "tick", "orient": "horizontal", "size": 7, "thickness": 1.2, "color": "#333"},
       "encoding": {"x": {"field": "x", "type": "quantitative", "axis": null}, "y": {"field": "hi", "type": "quantitative", "axis": null}}},
      {"data": {"name": "points"}, "transform": [{"filter": "datum.p === 'BR'"}],
       "mark": {"type": "circle", "size": 48, "color": "black", "opacity": 1},
       "encoding": {
         "x": {"field": "x", "type": "quantitative", "axis": {"orient": "top", "values": [-1,-0.9,-0.8,-0.7,-0.6,-0.5,-0.4,-0.3,-0.2,-0.1,0,0.1,0.2,0.3,0.4,0.5,0.6,0.7,0.8,0.9,1], "tickSize": {"condition": {"test": "abs(datum.value*2-round(datum.value*2))<1e-6", "value": -8}, "value": -4}, "labels": false, "title": null}},
         "y": {"field": "y", "type": "quantitative", "axis": {"orient": "right", "values": [-0.1,-0.09,-0.08,-0.07,-0.06,-0.05,-0.04,-0.03,-0.02,-0.01,0,0.01,0.02,0.03,0.04,0.05], "tickSize": {"condition": {"test": "abs(datum.value*20-round(datum.value*20))<1e-6", "value": -8}, "value": -4}, "labels": false, "title": null}}
       }}
    ],
    "resolve": {"axis": {"x": "independent", "y": "independent"}}
  }
]
}
